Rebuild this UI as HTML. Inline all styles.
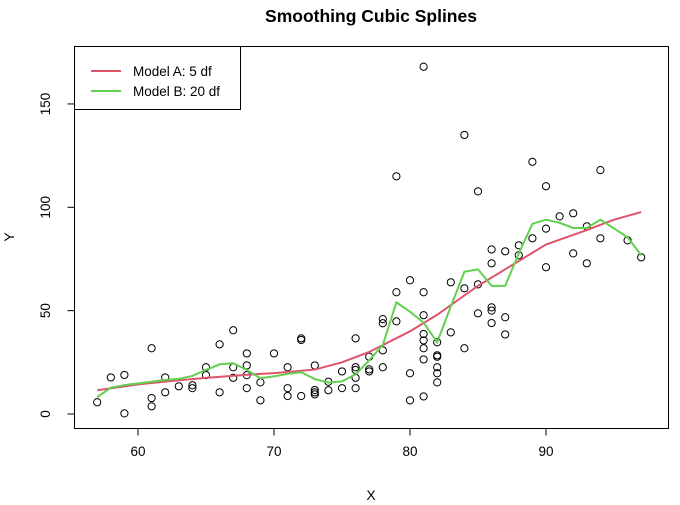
<!DOCTYPE html>
<html><head><meta charset="utf-8"><style>
body{margin:0;background:#fff}
svg{display:block;font-family:"Liberation Sans",Arial,sans-serif}
</style></head><body>
<svg id="chart" width="680" height="505" viewBox="0 0 680 505">
<text x="371" y="22" text-anchor="middle" font-size="17.5" font-weight="bold">Smoothing Cubic Splines</text>
<rect x="74.5" y="46.5" width="594" height="382" fill="none" stroke="#000"/>
<text x="371" y="500" text-anchor="middle" font-size="14">X</text>
<text transform="translate(14,237) rotate(-90)" text-anchor="middle" font-size="14">Y</text>
<g id="axes"></g>
<g id="points"></g>
<g id="lines"></g>
<g>
<rect x="74.5" y="46.5" width="166" height="63" fill="#fff" stroke="#000"/>
<line x1="91" y1="71" x2="121" y2="71" stroke="#DF536B" stroke-width="2"/>
<text x="133" y="76" font-size="13.5">Model A: 5 df</text>
<line x1="91" y1="91" x2="121" y2="91" stroke="#61D04F" stroke-width="2"/>
<text x="133" y="96" font-size="13.5">Model B: 20 df</text>
</g>
</svg>
<script>
const xTicks=[60,70,80,90];
const yTicks=[0,50,100,150];
const pointX=[57,58,59,59,61,61,61,62,62,63,64,64,65,65,66,66,67,67,67,68,68,68,68,69,69,70,71,71,71,72,72,72,73,73,73,73,74,74,75,75,76,76,76,76,76,77,77,77,78,78,78,78,79,79,79,80,80,80,81,81,81,81,81,81,81,81,82,82,82,82,82,82,83,83,84,84,84,85,85,85,86,86,86,86,86,87,87,87,88,88,89,89,90,90,90,91,92,92,93,93,94,94,96,97];
const pointY=[5.7,17.7,18.9,0.3,31.8,7.7,3.7,17.7,10.5,13.4,13.9,12.5,22.6,18.8,33.7,10.5,40.5,22.6,17.5,29.3,23.5,18.8,12.5,15.3,6.6,29.3,22.6,12.5,8.7,36.6,35.8,8.7,23.5,11.6,10.5,9.5,15.6,11.5,20.6,12.5,36.6,22.6,21.3,17.5,12.5,27.7,21.6,20.6,45.9,43.9,30.8,22.6,58.9,44.8,115,64.7,19.7,6.6,58.9,47.8,38.7,35.6,31.8,26.4,8.5,168,34.7,28.4,27.7,22.6,19.7,15.3,63.7,39.5,60.8,31.8,135,107.7,62.7,48.7,79.6,72.9,51.6,50,44,78.7,46.8,38.5,81.6,76.8,85,122,110.2,89.7,71,95.6,97.1,77.7,90.8,72.9,85,118,84,75.8];
const modelAX=[57,60,63,65,68,70,73,75,77,80,82,85,88,90,93,95,97];
const modelAY=[11.5,14.3,16.3,17.5,19,19.8,21.5,25,30,40,48,62,74,82,89,94,97.7];
const modelBX=[57,58,59,61,62,63,64,65,66,67,68,69,70,71,72,73,74,75,76,77,78,79,80,81,82,83,84,85,86,87,88,89,90,91,92,93,94,96,97];
const modelBY=[8.2,12.7,14,15.6,16.5,17,18.4,21.3,24,24.6,21.3,17.3,18.2,19.4,20.2,16.9,15.2,15.8,19.2,26,33.4,54,49.5,44.2,34.7,52,68.8,70,62,62,77.7,92,94,92.5,90,90,94,85.5,76.8];
const NS='http://www.w3.org/2000/svg';
function sx(v){return 138+(v-60)*13.6;}
function sy(v){return 414-v*2.067;}
function mk(tag,attrs,parent){const e=document.createElementNS(NS,tag);for(const k in attrs)e.setAttribute(k,attrs[k]);parent.appendChild(e);return e;}
const axes=document.getElementById('axes');
mk('line',{x1:sx(xTicks[0]),x2:sx(xTicks[xTicks.length-1]),y1:428.5,y2:428.5,stroke:'#000'},axes);
xTicks.forEach(t=>{
 const l=mk('line',{x1:sx(t),x2:sx(t),y1:428.5,y2:435.5,stroke:'#000'},axes);
 
 
 const tx=mk('text',{x:sx(t),y:456,'text-anchor':'middle','font-size':13.5},axes);
 tx.textContent=t;
 
 
});
mk('line',{x1:74.5,x2:74.5,y1:sy(yTicks[0]),y2:sy(yTicks[yTicks.length-1]),stroke:'#000'},axes);
yTicks.forEach(t=>{
 const l=mk('line',{x1:67.5,x2:74.5,y1:sy(t),y2:sy(t),stroke:'#000'},axes);
 
 
 const tx=mk('text',{transform:`translate(50,${sy(t)}) rotate(-90)`,'text-anchor':'middle','font-size':13.5},axes);
 tx.textContent=t;
 
 
});
const pts=document.getElementById('points');
pointX.forEach((x,i)=>{
 const c=mk('circle',{cx:sx(x),cy:sy(pointY[i]),r:3.6,fill:'none',stroke:'#000','stroke-width':1},pts);
 
 
});
const lines=document.getElementById('lines');
const pa=mk('polyline',{points:modelAX.map((x,i)=>sx(x)+','+sy(modelAY[i])).join(' '),fill:'none',stroke:'#DF536B','stroke-width':2},lines);


const pb=mk('polyline',{points:modelBX.map((x,i)=>sx(x)+','+sy(modelBY[i])).join(' '),fill:'none',stroke:'#61D04F','stroke-width':2},lines);


</script>
</body></html>
